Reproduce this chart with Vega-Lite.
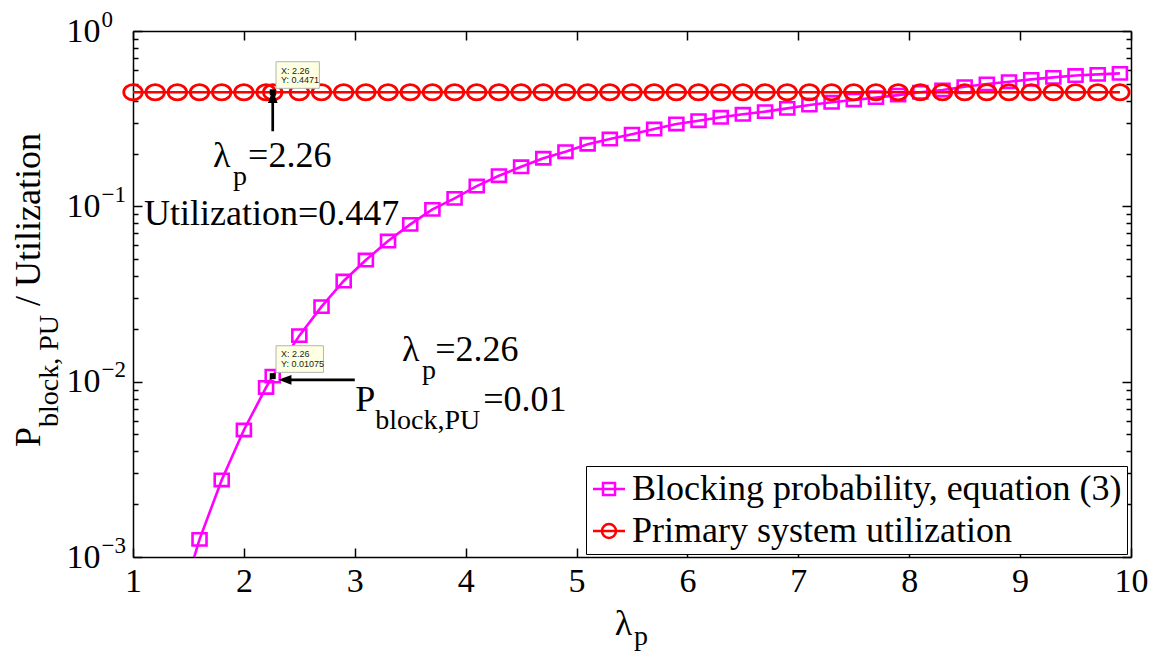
{
  "$schema": "https://vega.github.io/schema/vega-lite/v6.json",
  "autosize": {"type": "none"},
  "width": 998,
  "height": 526,
  "padding": {"left": 133, "top": 31, "right": 36, "bottom": 95},
  "background": "white",
  "config": {
    "view": {"stroke": null},
    "axis": {"grid": false, "title": null, "domainColor": "black", "domainWidth": 1.5, "tickColor": "black", "tickWidth": 1.5, "labelColor": "black", "labelFont": "Liberation Serif, Times New Roman, Times, DejaVu Serif, serif", "labelFontSize": 34, "labelFlush": false, "labelOverlap": false, "labelBound": false},
    "legend": {"orient": "none", "legendX": 453, "legendY": 435, "padding": 5, "strokeColor": "black", "fillColor": "white", "cornerRadius": 0, "labelFont": "Liberation Serif, Times New Roman, Times, DejaVu Serif, serif", "labelFontSize": 36, "labelColor": "black", "labelOffset": 5, "labelLimit": 0, "rowPadding": 6, "symbolSize": 1024, "symbolStrokeWidth": 2.5, "title": null}
  },
  "datasets": {
    "series": [
      {"lam": 1.0, "val": 0.00003, "s": "Blocking probability, equation (3)"},
      {"lam": 1.2, "val": 0.00013, "s": "Blocking probability, equation (3)"},
      {"lam": 1.4, "val": 0.00048, "s": "Blocking probability, equation (3)"},
      {"lam": 1.6, "val": 0.00126, "s": "Blocking probability, equation (3)"},
      {"lam": 1.8, "val": 0.00275, "s": "Blocking probability, equation (3)"},
      {"lam": 2.0, "val": 0.0053, "s": "Blocking probability, equation (3)"},
      {"lam": 2.2, "val": 0.00927, "s": "Blocking probability, equation (3)"},
      {"lam": 2.26, "val": 0.01075, "s": "Blocking probability, equation (3)"},
      {"lam": 2.5, "val": 0.0183, "s": "Blocking probability, equation (3)"},
      {"lam": 2.7, "val": 0.0268, "s": "Blocking probability, equation (3)"},
      {"lam": 2.9, "val": 0.0375, "s": "Blocking probability, equation (3)"},
      {"lam": 3.1, "val": 0.0494, "s": "Blocking probability, equation (3)"},
      {"lam": 3.3, "val": 0.0634, "s": "Blocking probability, equation (3)"},
      {"lam": 3.5, "val": 0.0789, "s": "Blocking probability, equation (3)"},
      {"lam": 3.7, "val": 0.0961, "s": "Blocking probability, equation (3)"},
      {"lam": 3.9, "val": 0.111, "s": "Blocking probability, equation (3)"},
      {"lam": 4.1, "val": 0.1305, "s": "Blocking probability, equation (3)"},
      {"lam": 4.3, "val": 0.1495, "s": "Blocking probability, equation (3)"},
      {"lam": 4.5, "val": 0.168, "s": "Blocking probability, equation (3)"},
      {"lam": 4.7, "val": 0.188, "s": "Blocking probability, equation (3)"},
      {"lam": 4.9, "val": 0.205, "s": "Blocking probability, equation (3)"},
      {"lam": 5.1, "val": 0.226, "s": "Blocking probability, equation (3)"},
      {"lam": 5.3, "val": 0.242, "s": "Blocking probability, equation (3)"},
      {"lam": 5.5, "val": 0.258, "s": "Blocking probability, equation (3)"},
      {"lam": 5.7, "val": 0.276, "s": "Blocking probability, equation (3)"},
      {"lam": 5.9, "val": 0.295, "s": "Blocking probability, equation (3)"},
      {"lam": 6.1, "val": 0.308, "s": "Blocking probability, equation (3)"},
      {"lam": 6.3, "val": 0.322, "s": "Blocking probability, equation (3)"},
      {"lam": 6.5, "val": 0.335, "s": "Blocking probability, equation (3)"},
      {"lam": 6.7, "val": 0.347, "s": "Blocking probability, equation (3)"},
      {"lam": 6.9, "val": 0.362, "s": "Blocking probability, equation (3)"},
      {"lam": 7.1, "val": 0.378, "s": "Blocking probability, equation (3)"},
      {"lam": 7.3, "val": 0.392, "s": "Blocking probability, equation (3)"},
      {"lam": 7.5, "val": 0.404, "s": "Blocking probability, equation (3)"},
      {"lam": 7.7, "val": 0.417, "s": "Blocking probability, equation (3)"},
      {"lam": 7.9, "val": 0.431, "s": "Blocking probability, equation (3)"},
      {"lam": 8.1, "val": 0.447, "s": "Blocking probability, equation (3)"},
      {"lam": 8.3, "val": 0.461, "s": "Blocking probability, equation (3)"},
      {"lam": 8.5, "val": 0.481, "s": "Blocking probability, equation (3)"},
      {"lam": 8.7, "val": 0.499, "s": "Blocking probability, equation (3)"},
      {"lam": 8.9, "val": 0.514, "s": "Blocking probability, equation (3)"},
      {"lam": 9.1, "val": 0.53, "s": "Blocking probability, equation (3)"},
      {"lam": 9.3, "val": 0.544, "s": "Blocking probability, equation (3)"},
      {"lam": 9.5, "val": 0.557, "s": "Blocking probability, equation (3)"},
      {"lam": 9.7, "val": 0.566, "s": "Blocking probability, equation (3)"},
      {"lam": 9.9, "val": 0.573, "s": "Blocking probability, equation (3)"},
      {"lam": 1.0, "val": 0.4471, "s": "Primary system utilization"},
      {"lam": 1.2, "val": 0.4471, "s": "Primary system utilization"},
      {"lam": 1.4, "val": 0.4471, "s": "Primary system utilization"},
      {"lam": 1.6, "val": 0.4471, "s": "Primary system utilization"},
      {"lam": 1.8, "val": 0.4471, "s": "Primary system utilization"},
      {"lam": 2.0, "val": 0.4471, "s": "Primary system utilization"},
      {"lam": 2.2, "val": 0.4471, "s": "Primary system utilization"},
      {"lam": 2.26, "val": 0.4471, "s": "Primary system utilization"},
      {"lam": 2.5, "val": 0.4471, "s": "Primary system utilization"},
      {"lam": 2.7, "val": 0.4471, "s": "Primary system utilization"},
      {"lam": 2.9, "val": 0.4471, "s": "Primary system utilization"},
      {"lam": 3.1, "val": 0.4471, "s": "Primary system utilization"},
      {"lam": 3.3, "val": 0.4471, "s": "Primary system utilization"},
      {"lam": 3.5, "val": 0.4471, "s": "Primary system utilization"},
      {"lam": 3.7, "val": 0.4471, "s": "Primary system utilization"},
      {"lam": 3.9, "val": 0.4471, "s": "Primary system utilization"},
      {"lam": 4.1, "val": 0.4471, "s": "Primary system utilization"},
      {"lam": 4.3, "val": 0.4471, "s": "Primary system utilization"},
      {"lam": 4.5, "val": 0.4471, "s": "Primary system utilization"},
      {"lam": 4.7, "val": 0.4471, "s": "Primary system utilization"},
      {"lam": 4.9, "val": 0.4471, "s": "Primary system utilization"},
      {"lam": 5.1, "val": 0.4471, "s": "Primary system utilization"},
      {"lam": 5.3, "val": 0.4471, "s": "Primary system utilization"},
      {"lam": 5.5, "val": 0.4471, "s": "Primary system utilization"},
      {"lam": 5.7, "val": 0.4471, "s": "Primary system utilization"},
      {"lam": 5.9, "val": 0.4471, "s": "Primary system utilization"},
      {"lam": 6.1, "val": 0.4471, "s": "Primary system utilization"},
      {"lam": 6.3, "val": 0.4471, "s": "Primary system utilization"},
      {"lam": 6.5, "val": 0.4471, "s": "Primary system utilization"},
      {"lam": 6.7, "val": 0.4471, "s": "Primary system utilization"},
      {"lam": 6.9, "val": 0.4471, "s": "Primary system utilization"},
      {"lam": 7.1, "val": 0.4471, "s": "Primary system utilization"},
      {"lam": 7.3, "val": 0.4471, "s": "Primary system utilization"},
      {"lam": 7.5, "val": 0.4471, "s": "Primary system utilization"},
      {"lam": 7.7, "val": 0.4471, "s": "Primary system utilization"},
      {"lam": 7.9, "val": 0.4471, "s": "Primary system utilization"},
      {"lam": 8.1, "val": 0.4471, "s": "Primary system utilization"},
      {"lam": 8.3, "val": 0.4471, "s": "Primary system utilization"},
      {"lam": 8.5, "val": 0.4471, "s": "Primary system utilization"},
      {"lam": 8.7, "val": 0.4471, "s": "Primary system utilization"},
      {"lam": 8.9, "val": 0.4471, "s": "Primary system utilization"},
      {"lam": 9.1, "val": 0.4471, "s": "Primary system utilization"},
      {"lam": 9.3, "val": 0.4471, "s": "Primary system utilization"},
      {"lam": 9.5, "val": 0.4471, "s": "Primary system utilization"},
      {"lam": 9.7, "val": 0.4471, "s": "Primary system utilization"},
      {"lam": 9.9, "val": 0.4471, "s": "Primary system utilization"}
    ],
    "shafts": [
      {"x1": 2.26, "x2": 2.26, "y1": 0.268, "y2": 0.423},
      {"x1": 3.0, "x2": 2.37, "y1": 0.01025, "y2": 0.01025}
    ],
    "heads": [
      {"x": 2.26, "y": 0.423, "d": "up"},
      {"x": 2.37, "y": 0.01025, "d": "left"}
    ],
    "tipBoxes": [
      {"x1": 2.29, "x2": 2.681, "y1": 0.471, "y2": 0.668},
      {"x1": 2.29, "x2": 2.7175, "y1": 0.0113, "y2": 0.01603}
    ],
    "tipText": [
      {"x": 2.335, "y": 0.591, "t": "X: 2.26"},
      {"x": 2.335, "y": 0.5233, "t": "Y: 0.4471"},
      {"x": 2.335, "y": 0.01437, "t": "X: 2.26"},
      {"x": 2.335, "y": 0.0126, "t": "Y: 0.01075"}
    ],
    "tipPoints": [
      {"x": 2.26, "y": 0.4471},
      {"x": 2.26, "y": 0.01075}
    ],
    "notes": [
      {"x": 1.722, "y": 0.1675, "t": "λ", "k": "main"},
      {"x": 2.038, "y": 0.1675, "t": "=2.26", "k": "main"},
      {"x": 1.099, "y": 0.0782, "t": "Utilization=0.447", "k": "main"},
      {"x": 3.425, "y": 0.01311, "t": "λ", "k": "main"},
      {"x": 3.7256, "y": 0.01311, "t": "=2.26", "k": "main"},
      {"x": 3.0036, "y": 0.006843, "t": "P", "k": "main"},
      {"x": 4.159, "y": 0.006843, "t": "=0.01", "k": "main"},
      {"x": 5.3455, "y": 0.0003589, "t": "λ", "k": "main"},
      {"x": 1.9025, "y": 0.1323, "t": "p", "k": "sub"},
      {"x": 3.6056, "y": 0.01035, "t": "p", "k": "sub"},
      {"x": 3.184, "y": 0.0054, "t": "block,PU", "k": "sub"},
      {"x": 5.517, "y": 0.0003148, "t": "p", "k": "sub"},
      {"x": 0.1613, "y": 0.004241, "t": "P", "k": "vmain"},
      {"x": 0.1613, "y": 0.02701, "t": "/ Utilization", "k": "vmain"},
      {"x": 0.3236, "y": 0.005512, "t": "block, PU", "k": "vsub"}
    ]
  },
  "resolve": {"axis": {"x": "independent", "y": "independent"}},
  "layer": [
    {
      "data": {"name": "series"},
      "transform": [{"filter": "datum.s == 'Blocking probability, equation (3)'"}],
      "mark": {"type": "line", "color": "#ff00ff", "strokeWidth": 2.6, "clip": true},
      "encoding": {
        "x": {"field": "lam", "type": "quantitative", "scale": {"type": "linear", "domain": [1, 10], "nice": false, "zero": false},
          "axis": {"orient": "bottom", "values": [1, 2, 3, 4, 5, 6, 7, 8, 9, 10], "format": "d", "tickSize": -9, "labelPadding": 16}},
        "y": {"field": "val", "type": "quantitative", "scale": {"type": "log", "domain": [0.001, 1], "nice": false},
          "axis": {"orient": "left",
            "values": [0.001, 0.002, 0.003, 0.004, 0.005, 0.006, 0.007, 0.008, 0.009, 0.01, 0.02, 0.03, 0.04, 0.05, 0.06, 0.07, 0.08, 0.09, 0.1, 0.2, 0.3, 0.4, 0.5, 0.6, 0.7, 0.8, 0.9, 1],
            "tickSize": {"condition": {"test": "abs(log(datum.value)/LN10 - round(log(datum.value)/LN10)) < 0.001", "value": -9}, "value": -5},
            "labelExpr": "abs(log(datum.value)/LN10 - round(log(datum.value)/LN10)) < 0.001 ? '10' : ''",
            "labelAlign": "right", "labelBaseline": "middle", "labelPadding": 42}}
      }
    },
    {
      "data": {"name": "series"},
      "transform": [{"filter": "datum.s == 'Blocking probability, equation (3)' && datum.val >= 0.001"}],
      "mark": {"type": "point", "shape": "M-1,-0.88H1V0.88H-1Z", "size": 196, "filled": false, "color": "#ff00ff", "strokeWidth": 2.6, "opacity": 1},
      "encoding": {
        "x": {"field": "lam", "type": "quantitative", "axis": null},
        "y": {"field": "val", "type": "quantitative",
          "axis": {"orient": "left", "values": [0.001, 0.01, 0.1, 1], "ticks": false, "domain": false,
            "labelExpr": "round(log(datum.value)/LN10) == 0 ? '0' : '−' + toString(-round(log(datum.value)/LN10))",
            "labelAlign": "left", "labelBaseline": "middle", "labelFontSize": 23, "labelPadding": 32, "labelOffset": -12}}
      }
    },
    {
      "data": {"name": "series"},
      "transform": [{"filter": "datum.s == 'Primary system utilization'"}],
      "mark": {"type": "line", "color": "#ff0000", "strokeWidth": 2.6},
      "encoding": {
        "x": {"field": "lam", "type": "quantitative",
          "axis": {"orient": "top", "values": [1, 2, 3, 4, 5, 6, 7, 8, 9, 10], "tickSize": -9, "labels": false}},
        "y": {"field": "val", "type": "quantitative",
          "axis": {"orient": "right",
            "values": [0.001, 0.002, 0.003, 0.004, 0.005, 0.006, 0.007, 0.008, 0.009, 0.01, 0.02, 0.03, 0.04, 0.05, 0.06, 0.07, 0.08, 0.09, 0.1, 0.2, 0.3, 0.4, 0.5, 0.6, 0.7, 0.8, 0.9, 1],
            "tickSize": {"condition": {"test": "abs(log(datum.value)/LN10 - round(log(datum.value)/LN10)) < 0.001", "value": -9}, "value": -5},
            "labels": false}}
      }
    },
    {
      "data": {"name": "series"},
      "transform": [{"filter": "datum.s == 'Primary system utilization'"}],
      "mark": {"type": "point", "shape": "M1,0A1,0.82 0 1,1 -1,0A1,0.82 0 1,1 1,0Z", "size": 342, "filled": false, "color": "#ff0000", "strokeWidth": 2.8, "opacity": 1},
      "encoding": {
        "x": {"field": "lam", "type": "quantitative", "axis": null},
        "y": {"field": "val", "type": "quantitative", "axis": null}
      }
    },
    {
      "data": {"name": "series"},
      "transform": [{"filter": "datum.val < 0"}],
      "mark": {"type": "point", "filled": false, "strokeWidth": 2.5, "size": 1024, "opacity": 1},
      "encoding": {
        "x": {"field": "lam", "type": "quantitative", "axis": null},
        "y": {"field": "val", "type": "quantitative", "axis": null},
        "color": {"field": "s", "type": "nominal",
          "scale": {"domain": ["Blocking probability, equation (3)", "Primary system utilization"], "range": ["#ff00ff", "#ff0000"]}},
        "shape": {"field": "s", "type": "nominal",
          "scale": {"domain": ["Blocking probability, equation (3)", "Primary system utilization"],
            "range": ["M-1,0H1M-0.375,-0.375H0.375V0.375H-0.375Z", "M-1,0H1M0.44,0A0.44,0.44 0 1,1 -0.44,0A0.44,0.44 0 1,1 0.44,0Z"]}}
      }
    },
    {
      "data": {"name": "shafts"},
      "mark": {"type": "rule", "color": "black", "strokeWidth": 2.7},
      "encoding": {
        "x": {"field": "x1", "type": "quantitative", "axis": null},
        "x2": {"field": "x2"},
        "y": {"field": "y1", "type": "quantitative", "axis": null},
        "y2": {"field": "y2"}
      }
    },
    {
      "data": {"name": "heads"},
      "transform": [{"filter": "datum.d == 'up'"}],
      "mark": {"type": "point", "shape": "M0,-1L0.75,1L-0.75,1Z", "filled": true, "color": "black", "size": 169, "opacity": 1},
      "encoding": {
        "x": {"field": "x", "type": "quantitative", "axis": null},
        "y": {"field": "y", "type": "quantitative", "axis": null}
      }
    },
    {
      "data": {"name": "heads"},
      "transform": [{"filter": "datum.d == 'left'"}],
      "mark": {"type": "point", "shape": "M-1,0L1,-0.75L1,0.75Z", "filled": true, "color": "black", "size": 169, "opacity": 1},
      "encoding": {
        "x": {"field": "x", "type": "quantitative", "axis": null},
        "y": {"field": "y", "type": "quantitative", "axis": null}
      }
    },
    {
      "data": {"name": "tipBoxes"},
      "mark": {"type": "rect", "fill": "#ffffe1", "stroke": "#b4b4b4", "strokeWidth": 1},
      "encoding": {
        "x": {"field": "x1", "type": "quantitative", "axis": null},
        "x2": {"field": "x2"},
        "y": {"field": "y1", "type": "quantitative", "axis": null},
        "y2": {"field": "y2"}
      }
    },
    {
      "data": {"name": "tipText"},
      "mark": {"type": "text", "align": "left", "baseline": "middle", "font": "Liberation Sans, Arial, DejaVu Sans, sans-serif", "fontSize": 9, "color": "#222222"},
      "encoding": {
        "x": {"field": "x", "type": "quantitative", "axis": null},
        "y": {"field": "y", "type": "quantitative", "axis": null},
        "text": {"field": "t"}
      }
    },
    {
      "data": {"name": "tipPoints"},
      "mark": {"type": "point", "shape": "square", "filled": true, "color": "black", "size": 36, "opacity": 1},
      "encoding": {
        "x": {"field": "x", "type": "quantitative", "axis": null},
        "y": {"field": "y", "type": "quantitative", "axis": null}
      }
    },
    {
      "data": {"name": "notes"},
      "transform": [{"filter": "datum.k == 'main'"}],
      "mark": {"type": "text", "align": "left", "baseline": "alphabetic", "font": "Liberation Serif, Times New Roman, Times, DejaVu Serif, serif", "fontSize": 36, "color": "black", "clip": false},
      "encoding": {
        "x": {"field": "x", "type": "quantitative", "axis": null},
        "y": {"field": "y", "type": "quantitative", "axis": null},
        "text": {"field": "t"}
      }
    },
    {
      "data": {"name": "notes"},
      "transform": [{"filter": "datum.k == 'sub'"}],
      "mark": {"type": "text", "align": "left", "baseline": "alphabetic", "font": "Liberation Serif, Times New Roman, Times, DejaVu Serif, serif", "fontSize": 28, "color": "black", "clip": false},
      "encoding": {
        "x": {"field": "x", "type": "quantitative", "axis": null},
        "y": {"field": "y", "type": "quantitative", "axis": null},
        "text": {"field": "t"}
      }
    },
    {
      "data": {"name": "notes"},
      "transform": [{"filter": "datum.k == 'vmain'"}],
      "mark": {"type": "text", "align": "left", "baseline": "alphabetic", "angle": 270, "font": "Liberation Serif, Times New Roman, Times, DejaVu Serif, serif", "fontSize": 36, "color": "black", "clip": false},
      "encoding": {
        "x": {"field": "x", "type": "quantitative", "axis": null},
        "y": {"field": "y", "type": "quantitative", "axis": null},
        "text": {"field": "t"}
      }
    },
    {
      "data": {"name": "notes"},
      "transform": [{"filter": "datum.k == 'vsub'"}],
      "mark": {"type": "text", "align": "left", "baseline": "alphabetic", "angle": 270, "font": "Liberation Serif, Times New Roman, Times, DejaVu Serif, serif", "fontSize": 28, "color": "black", "clip": false},
      "encoding": {
        "x": {"field": "x", "type": "quantitative", "axis": null},
        "y": {"field": "y", "type": "quantitative", "axis": null},
        "text": {"field": "t"}
      }
    }
  ]
}
